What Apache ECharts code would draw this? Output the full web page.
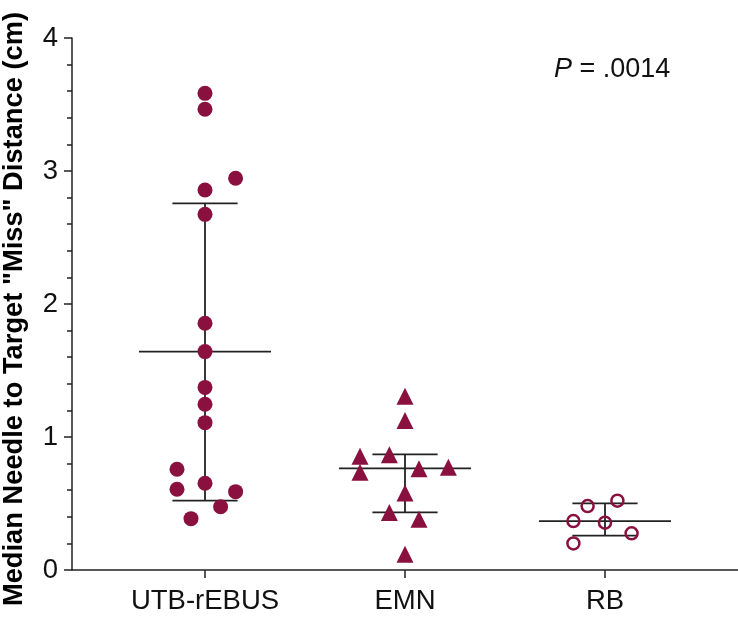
<!DOCTYPE html>
<html>
<head>
<meta charset="utf-8">
<script src="https://cdn.jsdelivr.net/npm/echarts@6/dist/echarts.min.js"></script>
<style>html,body{margin:0;padding:0;background:#fff;}#c{width:738px;height:619px;}</style>
</head>
<body>
<div id="c"></div>
<script>
// ---- data ----
var categories = ['UTB-rEBUS', 'EMN', 'RB'];
var yTicks = [0, 1, 2, 3, 4];

// values (cm) and horizontal jitter (in category units)
var utbValues = [3.584, 3.464, 2.945, 2.857, 2.674, 1.855, 1.642, 1.373, 1.246, 1.108, 0.757, 0.652, 0.607, 0.589, 0.476, 0.386];
var utbJitter = [0, 0, 0.153, 0, 0, 0, 0, 0, 0, 0, -0.14, 0, -0.14, 0.153, 0.078, -0.07];

var emnValues = [1.307, 1.125, 0.856, 0.867, 0.735, 0.762, 0.773, 0.579, 0.432, 0.382, 0.119];
var emnJitter = [0, 0, -0.225, -0.078, -0.225, 0.07, 0.217, 0, -0.078, 0.07, 0];

var rbValues = [0.481, 0.521, 0.368, 0.356, 0.276, 0.200];
var rbJitter = [-0.087, 0.062, -0.158, 0, 0.133, -0.158];

// median and interquartile range per group
var q1 = [0.521, 0.434, 0.258];
var medians = [1.642, 0.764, 0.368];
var q3 = [2.757, 0.870, 0.501];

var pText = '.0014';

// ---- build ----
var MAROON = '#8a103f';
var INK = '#222222';
var FONT = '"Liberation Sans", Arial, Helvetica, sans-serif';

function pts(vals, jit, groupIndex) {
  return vals.map(function (v, i) { return [groupIndex + 1 + jit[i], v]; });
}
var statData = categories.map(function (c, i) { return [i + 1, q1[i], medians[i], q3[i]]; });

var chart = echarts.init(document.getElementById('c'), null, {renderer: 'canvas'});
chart.setOption({
  animation: false,
  backgroundColor: '#fff',
  grid: {left: 72, right: 0, top: 38, bottom: 49, containLabel: false, outerBoundsMode: 'none'},
  xAxis: {
    type: 'value', min: 0.335, max: 3.665,
    axisLine: {show: true, lineStyle: {color: INK, width: 1.5}},
    axisTick: {show: true, length: 8, lineStyle: {color: INK, width: 1.5}, customValues: [1, 2, 3]},
    axisLabel: {
      customValues: [1, 2, 3], margin: 17,
      color: '#111', fontSize: 27.5, fontFamily: FONT,
      formatter: function (v) { return categories[Math.round(v) - 1] || ''; }
    },
    splitLine: {show: false}
  },
  yAxis: {
    type: 'value', min: 0, max: 4, interval: 1,
    name: 'Median Needle to Target "Miss" Distance (cm)',
    nameLocation: 'middle', nameGap: 44,
    nameTextStyle: {fontSize: 27.3, fontWeight: 'bold', color: '#000', fontFamily: FONT, padding: [0, 10, 0, 0]},
    axisLine: {show: true, lineStyle: {color: INK, width: 1.5}},
    axisTick: {show: true, length: 8, lineStyle: {color: INK, width: 1.5}},
    minorTick: {show: true, splitNumber: 5, length: 5, lineStyle: {color: INK, width: 1.5}},
    axisLabel: {
      margin: 14, color: '#111', fontSize: 27.5, fontFamily: FONT,
      formatter: function (v) { return yTicks.indexOf(v) >= 0 ? String(v) : ''; }
    },
    splitLine: {show: false}
  },
  graphic: [{
    type: 'text', left: 554, top: 56,
    style: {
      text: '{i|P} = ' + pText,
      font: '27px ' + FONT, fill: '#111',
      rich: {i: {fontStyle: 'italic', fontSize: 27, fontFamily: FONT, fill: '#111'}}
    }
  }],
  series: [
    {
      type: 'custom', z: 1,
      data: statData,
      renderItem: function (params, api) {
        var x = api.value(0);
        var lo = api.coord([x, api.value(1)]);
        var md = api.coord([x, api.value(2)]);
        var hi = api.coord([x, api.value(3)]);
        var medL = api.coord([x - 0.33, api.value(2)]);
        var medR = api.coord([x + 0.33, api.value(2)]);
        var capL = api.coord([x - 0.163, 0])[0];
        var capR = api.coord([x + 0.163, 0])[0];
        var st = {stroke: INK, lineWidth: 1.8, fill: null};
        return {
          type: 'group',
          children: [
            {type: 'line', shape: {x1: lo[0], y1: lo[1], x2: hi[0], y2: hi[1]}, style: st},
            {type: 'line', shape: {x1: medL[0], y1: md[1], x2: medR[0], y2: md[1]}, style: st},
            {type: 'line', shape: {x1: capL, y1: lo[1], x2: capR, y2: lo[1]}, style: st},
            {type: 'line', shape: {x1: capL, y1: hi[1], x2: capR, y2: hi[1]}, style: st}
          ]
        };
      }
    },
    {
      type: 'scatter', z: 3, symbol: 'circle', symbolSize: 15,
      itemStyle: {color: MAROON, opacity: 1},
      data: pts(utbValues, utbJitter, 0)
    },
    {
      type: 'scatter', z: 3, symbol: 'triangle', symbolSize: 17,
      itemStyle: {color: MAROON, opacity: 1},
      data: pts(emnValues, emnJitter, 1)
    },
    {
      type: 'scatter', z: 3, symbol: 'circle', symbolSize: 12,
      itemStyle: {color: 'rgba(0,0,0,0)', borderColor: MAROON, borderWidth: 2.5, opacity: 1},
      data: pts(rbValues, rbJitter, 2)
    }
  ]
});
</script>
</body>
</html>
